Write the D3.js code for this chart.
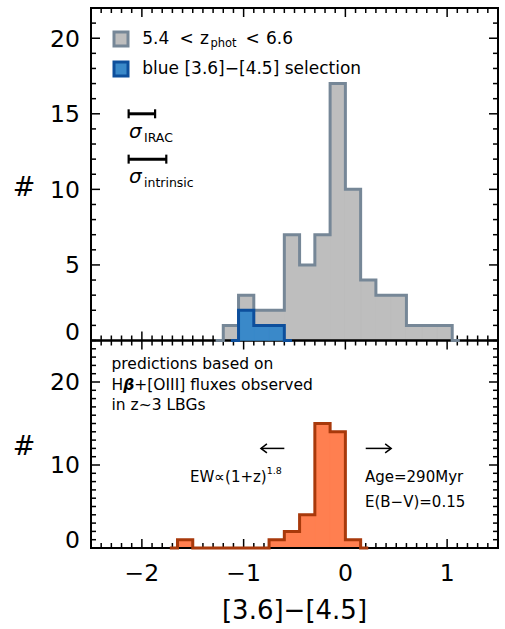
<!DOCTYPE html>
<html><head><meta charset="utf-8">
<script src="https://cdn.jsdelivr.net/npm/d3@7/dist/d3.min.js"></script>
<style>
html,body{margin:0;padding:0;background:#fff;}
svg{display:block;font-family:"DejaVu Sans",sans-serif;}
</style></head>
<body>
<svg id="c" width="505" height="629"></svg>
<script>
// ---- data ----
const binWidth = 0.15;
const greyBins   = [-1.2,-1.05,-0.9,-0.75,-0.6,-0.45,-0.3,-0.15,0,0.15,0.3,0.45,0.6,0.75,0.9];
const greyCounts = [1,3,2,2,7,5,7,17,10,4,3,3,1,1,1];
const blueBins   = [-1.05,-0.9,-0.75];
const blueCounts = [2,1,1];
const orangeBins   = [-1.65,-1.5,-1.35,-1.2,-1.05,-0.9,-0.75,-0.6,-0.45,-0.3,-0.15,0];
const orangeCounts = [1,0,0,0,0,0,1,2,4,15,14,1];
const xTickValues = [-2,-1,0,1];
const topYTicks = [0,5,10,15,20];
const botYTicks = [0,10,20];
const sigmaBars = [ {name:"IRAC", x0:-2.13, x1:-1.87, y:15}, {name:"intrinsic", x0:-2.13, x1:-1.76, y:12} ];

const svg = d3.select("#c");
const L = 91, R = 498, T = 8, M = 340.5, B = 548;
const x = d3.scaleLinear().domain([-2.5,1.5]).range([L,R]);
const yTop = d3.scaleLinear().domain([0,22]).range([M,T]);
const yBot = d3.scaleLinear().domain([0,25]).range([B,M]);

const gTicks = svg.append("g");
const gFill = svg.append("g");
const gFrame = svg.append("g");
const gLine = svg.append("g");
const gText = svg.append("g");

// ticks
function ticksFor(y, top, bottom, yMajor, yMinorStep){
  const xs = d3.range(-2.5, 1.5001, 0.1);
  xs.forEach(v=>{
    const major = xTickValues.some(t=>Math.abs(t-v)<1e-6);
    const len = major?9:5;
    const px = x(v);
    gTicks.append("line").attr("x1",px).attr("x2",px).attr("y1",bottom).attr("y2",bottom-len).attr("stroke","#000").attr("stroke-width",1.5);
    gTicks.append("line").attr("x1",px).attr("x2",px).attr("y1",top).attr("y2",top+len).attr("stroke","#000").attr("stroke-width",1.5);
  });
  const dom = y.domain();
  for(let v=dom[0]; v<=dom[1]+1e-6; v+=yMinorStep){
    const major = yMajor.includes(Math.round(v));
    const len = major?9:5;
    const py = y(v);
    gTicks.append("line").attr("x1",L).attr("x2",L+len).attr("y1",py).attr("y2",py).attr("stroke","#000").attr("stroke-width",1.5);
    gTicks.append("line").attr("x1",R).attr("x2",R-len).attr("y1",py).attr("y2",py).attr("stroke","#000").attr("stroke-width",1.5);
  }
}
ticksFor(yTop, T, M, topYTicks, 1);
ticksFor(yBot, M, B, botYTicks, 1);

// histograms
function fillPath(bins, counts, y){
  let p = "";
  bins.forEach((b,i)=>{
    if(counts[i]>0){
      const x0=x(b), x1=x(b+binWidth), y0=y(0), y1=y(counts[i]);
      p += `M${x0},${y0}L${x0},${y1}L${x1},${y1}L${x1},${y0}Z`;
    }
  });
  return p;
}
function stepPath(bins, counts, y){
  const first = bins[0], last = bins[bins.length-1]+binWidth;
  const pts = [[first-binWidth/2,0],[first,0]];
  bins.forEach((b,i)=>{ pts.push([b,counts[i]]); pts.push([b+binWidth,counts[i]]); });
  pts.push([last,0]); pts.push([last+binWidth/2,0]);
  return d3.line().x(d=>x(d[0])).y(d=>y(d[1]))(pts);
}
function hist(bins, counts, y, fill, stroke){
  gFill.append("path").attr("d",fillPath(bins,counts,y)).attr("fill",fill).attr("stroke",fill).attr("stroke-width",0.6);
  gLine.append("path").attr("d",stepPath(bins,counts,y)).attr("fill","none").attr("stroke",stroke).attr("stroke-width",3).attr("stroke-linejoin","miter");
}
const greyFill="#bebebe", greyLine="#768797", blueFill="#3a89c9", blueLine="#0d4f9c", orFill="#ff7f50", orLine="#a8390b";
hist(greyBins, greyCounts, yTop, greyFill, greyLine);
// blue drawn on top
const gFill2 = svg.append("g"), gLine2 = svg.append("g");
gFill2.append("path").attr("d",fillPath(blueBins,blueCounts,yTop)).attr("fill",blueFill).attr("stroke",blueFill).attr("stroke-width",0.6);
gLine2.append("path").attr("d",stepPath(blueBins,blueCounts,yTop)).attr("fill","none").attr("stroke",blueLine).attr("stroke-width",3);
hist(orangeBins, orangeCounts, yBot, orFill, orLine);
gFrame.raise(); gLine.raise(); gFill2.raise(); gLine2.raise(); gText.raise();

// frames
gFrame.append("rect").attr("x",L).attr("y",T).attr("width",R-L).attr("height",M-T).attr("fill","none").attr("stroke","#000").attr("stroke-width",2);
gFrame.append("rect").attr("x",L).attr("y",M).attr("width",R-L).attr("height",B-M).attr("fill","none").attr("stroke","#000").attr("stroke-width",2);

// tick labels
const tl = 23.5;
topYTicks.forEach(v=>{
  gText.append("text").attr("x",80).attr("y", v===0? yTop(v)-0.5 : yTop(v)+8.4).attr("text-anchor","end").attr("font-size",tl).text(v);
});
botYTicks.forEach(v=>{
  gText.append("text").attr("x",80).attr("y", v===0? yBot(v)-0.5 : yBot(v)+8.4).attr("text-anchor","end").attr("font-size",tl).text(v);
});
xTickValues.forEach(v=>{
  gText.append("text").attr("x",x(v)).attr("y",580.7).attr("text-anchor","middle").attr("font-size",tl).text(v<0?"\u2212"+Math.abs(v):v);
});
gText.append("text").attr("x",294.5).attr("y",618.5).attr("text-anchor","middle").attr("font-size",26).text("[3.6]\u2212[4.5]");
gText.append("text").attr("x",24).attr("y",196).attr("text-anchor","middle").attr("font-size",27).text("#");
gText.append("text").attr("x",24).attr("y",455).attr("text-anchor","middle").attr("font-size",27).text("#");

// legend
gText.append("rect").attr("x",114).attr("y",32).attr("width",14).attr("height",14).attr("fill",greyFill).attr("stroke",greyLine).attr("stroke-width",3);
gText.append("rect").attr("x",114).attr("y",62).attr("width",14).attr("height",14).attr("fill",blueFill).attr("stroke",blueLine).attr("stroke-width",3);
const leg1 = gText.append("text").attr("y",43.5).attr("font-size",17);
leg1.append("tspan").attr("x",142.3).text("5.4");
leg1.append("tspan").attr("x",179.5).text("<");
leg1.append("tspan").attr("x",200).text("z");
leg1.append("tspan").attr("x",210.5).attr("dy",3.5).attr("font-size",11.5).text("phot");
leg1.append("tspan").attr("x",245.5).attr("dy",-3.5).text("<");
leg1.append("tspan").attr("x",266).text("6.6");
gText.append("text").attr("x",142.3).attr("y",73.5).attr("font-size",17).text("blue [3.6]\u2212[4.5] selection");

// sigma bars
sigmaBars.forEach(s=>{
  const py = yTop(s.y), a=x(s.x0), b=x(s.x1);
  gText.append("line").attr("x1",a).attr("x2",b).attr("y1",py).attr("y2",py).attr("stroke","#000").attr("stroke-width",3);
  [a,b].forEach(px=>gText.append("line").attr("x1",px).attr("x2",px).attr("y1",py-4.5).attr("y2",py+4.5).attr("stroke","#000").attr("stroke-width",2.2));
  const t = gText.append("text").attr("x",129).attr("y",py+24).attr("font-size",20);
  t.append("tspan").attr("font-style","italic").text("\u03c3");
  t.append("tspan").attr("x",144).attr("dy",4).attr("font-size",12.5).text(s.name);
});

// bottom panel annotations
const ann = [["predictions based on",368.5],["",389.5],["in z~3 LBGs",410]];
gText.append("text").attr("x",111.5).attr("y",368.5).attr("font-size",15.5).text("predictions based on");
const h = gText.append("text").attr("x",111.5).attr("y",389.5).attr("font-size",15.5);
h.append("tspan").text("H");
h.append("tspan").attr("font-weight","bold").attr("font-style","italic").text("\u03b2");
h.append("tspan").text("+[OIII] fluxes observed");
gText.append("text").attr("x",111.5).attr("y",410).attr("font-size",15.5).text("in z~3 LBGs");

const ew = gText.append("text").attr("x",190).attr("y",482).attr("font-size",15);
ew.append("tspan").text("EW\u221d(1+z)");
ew.append("tspan").attr("dy",-8).attr("font-size",9.5).text("1.8");
gText.append("text").attr("x",365).attr("y",482).attr("font-size",15).text("Age=290Myr");
gText.append("text").attr("x",365).attr("y",506.5).attr("font-size",15).text("E(B\u2212V)=0.15");

// arrows (data coords of bottom panel)
const arrows = [{from:-0.6,to:-0.83,y:12},{from:0.2,to:0.45,y:12}];
arrows.forEach(a=>{
  const x0=x(a.from), x1=x(a.to), py=yBot(a.y), d=Math.sign(x1-x0);
  gText.append("line").attr("x1",x0).attr("x2",x1).attr("y1",py).attr("y2",py).attr("stroke","#000").attr("stroke-width",1.5);
  gText.append("path").attr("d",`M${x1-d*6},${py-4.5}L${x1},${py}L${x1-d*6},${py+4.5}`).attr("fill","none").attr("stroke","#000").attr("stroke-width",1.5);
});
</script>
</body></html>
